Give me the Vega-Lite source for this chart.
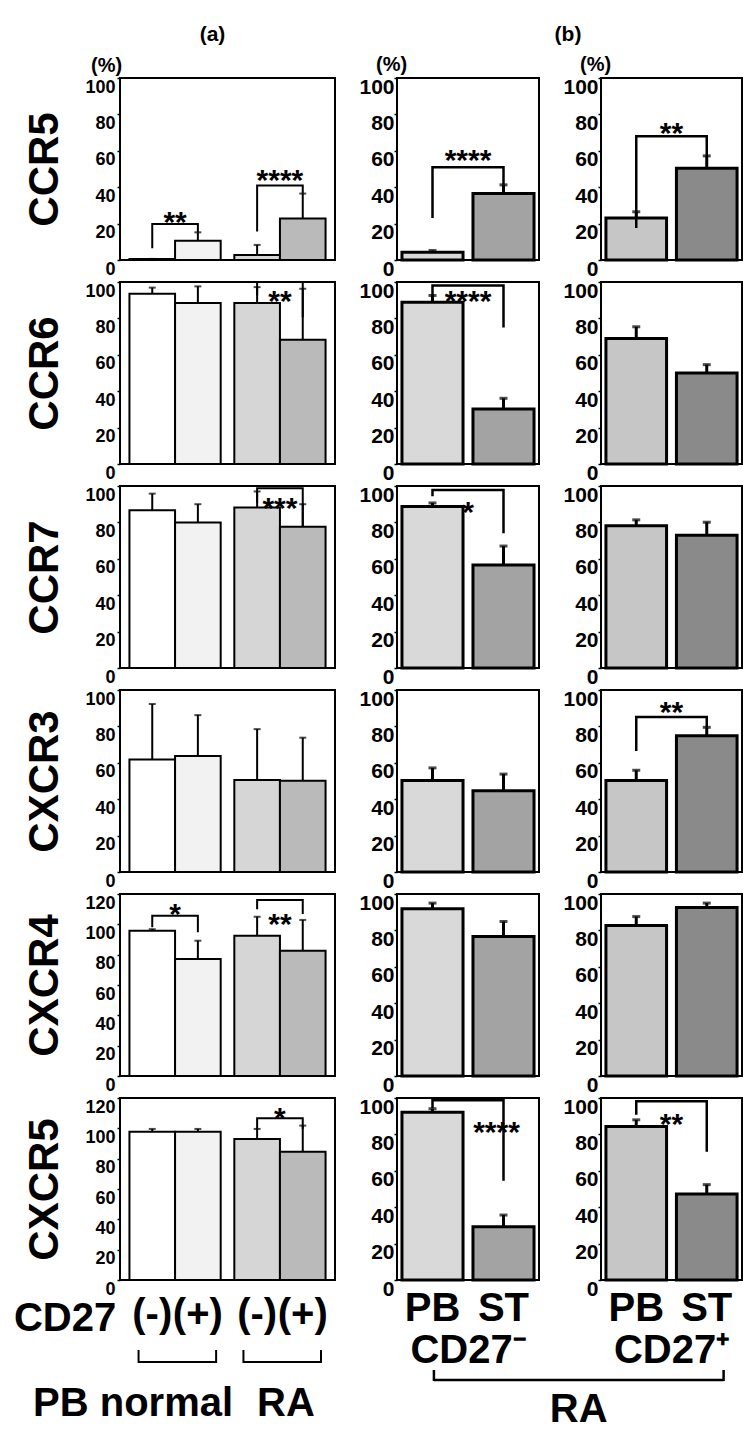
{
"$schema":"https://vega.github.io/schema/vega-lite/v6.json",
"background":"white",
"padding":{"left":13,"top":20,"right":0,"bottom":0},
"config":{
 "font":"Liberation Sans",
 "view":{"stroke":"black","strokeWidth":2},
 "axis":{"labelFont":"Liberation Sans","titleFont":"Liberation Sans","labelFontWeight":"bold","titleFontWeight":"bold","labelColor":"black","titleColor":"black","tickColor":"black","tickWidth":1.5,"grid":false,"domain":false,"labelOverlap":false},
 "title":{"font":"Liberation Sans","fontWeight":"bold","color":"black"},
 "text":{"font":"Liberation Sans","fontWeight":"bold","color":"black"}
},
"datasets":{
 "a_bars":[
  {"m":"CCR5","g":"normal","c":"-","v":0.6,"hi":0.6},
  {"m":"CCR5","g":"normal","c":"+","v":10.6,"hi":15.2},
  {"m":"CCR5","g":"RA","c":"-","v":2.8,"hi":8.3},
  {"m":"CCR5","g":"RA","c":"+","v":22.8,"hi":36.5},
  {"m":"CCR6","g":"normal","c":"-","v":93.6,"hi":96.9},
  {"m":"CCR6","g":"normal","c":"+","v":88.4,"hi":97.6},
  {"m":"CCR6","g":"RA","c":"-","v":88.4,"hi":97.2},
  {"m":"CCR6","g":"RA","c":"+","v":68.3,"hi":96.3},
  {"m":"CCR7","g":"normal","c":"-","v":86.7,"hi":95.8},
  {"m":"CCR7","g":"normal","c":"+","v":79.9,"hi":90},
  {"m":"CCR7","g":"RA","c":"-","v":88.2,"hi":97},
  {"m":"CCR7","g":"RA","c":"+","v":77.6,"hi":90},
  {"m":"CXCR3","g":"normal","c":"-","v":61.8,"hi":92.3},
  {"m":"CXCR3","g":"normal","c":"+","v":63.7,"hi":86.2},
  {"m":"CXCR3","g":"RA","c":"-","v":50.5,"hi":78.5},
  {"m":"CXCR3","g":"RA","c":"+","v":50.1,"hi":73.8},
  {"m":"CXCR4","g":"normal","c":"-","v":95.8,"hi":96.8},
  {"m":"CXCR4","g":"normal","c":"+","v":77.1,"hi":89.2},
  {"m":"CXCR4","g":"RA","c":"-","v":92.5,"hi":105},
  {"m":"CXCR4","g":"RA","c":"+","v":82.6,"hi":102.9},
  {"m":"CXCR5","g":"normal","c":"-","v":97.8,"hi":99.6},
  {"m":"CXCR5","g":"normal","c":"+","v":97.8,"hi":99.6},
  {"m":"CXCR5","g":"RA","c":"-","v":93,"hi":99.6},
  {"m":"CXCR5","g":"RA","c":"+","v":84.6,"hi":101.8}
 ],
 "a_brk":[
  {"m":"CCR5","id":"n","g":"normal","c":"-","y":6.5,"o":1},
  {"m":"CCR5","id":"n","g":"normal","c":"-","y":19.8,"o":2},
  {"m":"CCR5","id":"n","g":"normal","c":"+","y":19.8,"o":3},
  {"m":"CCR5","id":"n","g":"normal","c":"+","y":15.2,"o":4},
  {"m":"CCR5","id":"r","g":"RA","c":"-","y":15.7,"o":1},
  {"m":"CCR5","id":"r","g":"RA","c":"-","y":41,"o":2},
  {"m":"CCR5","id":"r","g":"RA","c":"+","y":41,"o":3},
  {"m":"CCR5","id":"r","g":"RA","c":"+","y":36.5,"o":4},
  {"m":"CCR6","id":"r","g":"RA","c":"-","y":92.7,"o":1},
  {"m":"CCR6","id":"r","g":"RA","c":"-","y":100,"o":2},
  {"m":"CCR6","id":"r","g":"RA","c":"+","y":100,"o":3},
  {"m":"CCR6","id":"r","g":"RA","c":"+","y":80.7,"o":4},
  {"m":"CCR7","id":"r","g":"RA","c":"-","y":90.9,"o":1},
  {"m":"CCR7","id":"r","g":"RA","c":"-","y":98.7,"o":2},
  {"m":"CCR7","id":"r","g":"RA","c":"+","y":98.7,"o":3},
  {"m":"CCR7","id":"r","g":"RA","c":"+","y":78,"o":4},
  {"m":"CXCR4","id":"n","g":"normal","c":"-","y":98,"o":1},
  {"m":"CXCR4","id":"n","g":"normal","c":"-","y":105.7,"o":2},
  {"m":"CXCR4","id":"n","g":"normal","c":"+","y":105.7,"o":3},
  {"m":"CXCR4","id":"n","g":"normal","c":"+","y":94.7,"o":4},
  {"m":"CXCR4","id":"r","g":"RA","c":"-","y":110,"o":1},
  {"m":"CXCR4","id":"r","g":"RA","c":"-","y":116,"o":2},
  {"m":"CXCR4","id":"r","g":"RA","c":"+","y":116,"o":3},
  {"m":"CXCR4","id":"r","g":"RA","c":"+","y":106.8,"o":4},
  {"m":"CXCR5","id":"r","g":"RA","c":"-","y":99.6,"o":1},
  {"m":"CXCR5","id":"r","g":"RA","c":"-","y":106.6,"o":2},
  {"m":"CXCR5","id":"r","g":"RA","c":"+","y":106.6,"o":3},
  {"m":"CXCR5","id":"r","g":"RA","c":"+","y":99.6,"o":4}
 ],
 "a_star":[
  {"m":"CCR5","g":"normal","t":"**","y":25},
  {"m":"CCR5","g":"RA","t":"****","y":47.6},
  {"m":"CCR6","g":"RA","t":"**","y":93.6},
  {"m":"CCR7","g":"RA","t":"***","y":91.8},
  {"m":"CXCR4","g":"normal","t":"*","y":111.2},
  {"m":"CXCR4","g":"RA","t":"**","y":104.6},
  {"m":"CXCR5","g":"RA","t":"*","y":111.7}
 ],
 "b_bars":[
  {"m":"CCR5","p":"neg","s":"PB","v":4.3,"hi":5.2},
  {"m":"CCR5","p":"neg","s":"ST","v":36.5,"hi":41.3},
  {"m":"CCR5","p":"pos","s":"PB","v":23.1,"hi":26.5},
  {"m":"CCR5","p":"pos","s":"ST","v":50.4,"hi":57.2},
  {"m":"CCR6","p":"neg","s":"PB","v":88.9,"hi":92.6},
  {"m":"CCR6","p":"neg","s":"ST","v":30.2,"hi":36.1},
  {"m":"CCR6","p":"pos","s":"PB","v":68.9,"hi":75.4},
  {"m":"CCR6","p":"pos","s":"ST","v":50,"hi":54.6},
  {"m":"CCR7","p":"neg","s":"PB","v":88.8,"hi":90.7},
  {"m":"CCR7","p":"neg","s":"ST","v":56.6,"hi":67},
  {"m":"CCR7","p":"pos","s":"PB","v":78.2,"hi":81.4},
  {"m":"CCR7","p":"pos","s":"ST","v":73,"hi":80.1},
  {"m":"CXCR3","p":"neg","s":"PB","v":50.3,"hi":57.2},
  {"m":"CXCR3","p":"neg","s":"ST","v":44.7,"hi":53.8},
  {"m":"CXCR3","p":"pos","s":"PB","v":50.3,"hi":55.9},
  {"m":"CXCR3","p":"pos","s":"ST","v":74.9,"hi":79.5},
  {"m":"CXCR4","p":"neg","s":"PB","v":91.9,"hi":95},
  {"m":"CXCR4","p":"neg","s":"ST","v":76.6,"hi":84.9},
  {"m":"CXCR4","p":"pos","s":"PB","v":82.7,"hi":87.6},
  {"m":"CXCR4","p":"pos","s":"ST","v":92.6,"hi":95},
  {"m":"CXCR5","p":"neg","s":"PB","v":92.2,"hi":94.1},
  {"m":"CXCR5","p":"neg","s":"ST","v":29.3,"hi":35.7},
  {"m":"CXCR5","p":"pos","s":"PB","v":84.3,"hi":88},
  {"m":"CXCR5","p":"pos","s":"ST","v":47.2,"hi":52.4}
 ],
 "b_brk":[
  {"m":"CCR5","p":"neg","s":"PB","y":23.1,"o":1},
  {"m":"CCR5","p":"neg","s":"PB","y":50.9,"o":2},
  {"m":"CCR5","p":"neg","s":"ST","y":50.9,"o":3},
  {"m":"CCR5","p":"neg","s":"ST","y":41.3,"o":4},
  {"m":"CCR5","p":"pos","s":"PB","y":17.6,"o":1},
  {"m":"CCR5","p":"pos","s":"PB","y":68,"o":2},
  {"m":"CCR5","p":"pos","s":"ST","y":68,"o":3},
  {"m":"CCR5","p":"pos","s":"ST","y":57.2,"o":4},
  {"m":"CCR6","p":"neg","s":"PB","y":90.7,"o":1},
  {"m":"CCR6","p":"neg","s":"PB","y":98.1,"o":2},
  {"m":"CCR6","p":"neg","s":"ST","y":98.1,"o":3},
  {"m":"CCR6","p":"neg","s":"ST","y":75,"o":4},
  {"m":"CCR7","p":"neg","s":"PB","y":94.4,"o":1},
  {"m":"CCR7","p":"neg","s":"PB","y":97.8,"o":2},
  {"m":"CCR7","p":"neg","s":"ST","y":97.8,"o":3},
  {"m":"CCR7","p":"neg","s":"ST","y":74,"o":4},
  {"m":"CXCR3","p":"pos","s":"PB","y":66.5,"o":1},
  {"m":"CXCR3","p":"pos","s":"PB","y":85.1,"o":2},
  {"m":"CXCR3","p":"pos","s":"ST","y":85.1,"o":3},
  {"m":"CXCR3","p":"pos","s":"ST","y":79.5,"o":4},
  {"m":"CXCR5","p":"neg","s":"PB","y":94.4,"o":1},
  {"m":"CXCR5","p":"neg","s":"PB","y":98.7,"o":2},
  {"m":"CXCR5","p":"neg","s":"ST","y":98.7,"o":3},
  {"m":"CXCR5","p":"neg","s":"ST","y":54.6,"o":4},
  {"m":"CXCR5","p":"pos","s":"PB","y":90.8,"o":1},
  {"m":"CXCR5","p":"pos","s":"PB","y":98.2,"o":2},
  {"m":"CXCR5","p":"pos","s":"ST","y":98.2,"o":3},
  {"m":"CXCR5","p":"pos","s":"ST","y":70.4,"o":4}
 ],
 "b_star":[
  {"m":"CCR5","p":"neg","t":"****","y":59},
  {"m":"CCR5","p":"pos","t":"**","y":73.5},
  {"m":"CCR6","p":"neg","t":"****","y":93.5},
  {"m":"CCR7","p":"neg","t":"*","y":89.8},
  {"m":"CXCR3","p":"pos","t":"**","y":91.6},
  {"m":"CXCR5","p":"neg","t":"****","y":85.2,"s":"ST"},
  {"m":"CXCR5","p":"pos","t":"**","y":89.8}
 ]
},
"columns":3,
"align":"each",
"bounds":"flush",
"spacing":{"row":22,"column":62},
"resolve":{"scale":{"xOffset":"independent"}},
"concat":[
 {"width":215,"height":36,"view":{"stroke":null},"data":{"values":[{"t":"(a)"}]},"mark":{"type":"text","fontSize":21,"fontWeight":"bold","baseline":"middle","dx":-15,"dy":-3},"encoding":{"text":{"field":"t","type":"nominal"}}},
 {"width":142,"height":36,"view":{"stroke":null},"data":{"values":[{"t":"(b)"}]},"mark":{"type":"text","fontSize":21,"fontWeight":"bold","baseline":"middle","dx":100,"dy":-3},"encoding":{"text":{"field":"t","type":"nominal"}}},
 {"width":141,"height":36,"view":{"stroke":null},"data":{"values":[]},"mark":{"type":"text"},"encoding":{}},

 {"width":215,"height":182,
  "title":{"text":"(%)","anchor":"start","frame":"group","dx":-29,"offset":1,"fontSize":20},
  "layer":[
   {"data":{"name":"a_bars"},"transform":[{"filter":"datum.m==='CCR5'"}],"mark":{"type":"bar","stroke":"black","strokeWidth":2},"encoding":{"x":{"field":"g","type":"nominal","scale":{"domain":["normal","RA"],"paddingInner":0.13,"paddingOuter":0.09},"axis":null},"xOffset":{"field":"c","type":"nominal","scale":{"domain":["-","+"],"paddingInner":0,"paddingOuter":0}},"y":{"field":"v","type":"quantitative","scale":{"domain":[0,100],"nice":false},"axis":{"title":"CCR5","values":[0,20,40,60,80,100],"tickCount":12,"labelOverlap":false,"titleFontSize":42,"titlePadding":18,"labelFontSize":18,"tickSize":3,"labelPadding":2,"labelBaseline":"middle","labelOffset":9}},"fill":{"condition":[{"test":"datum.g==='normal' && datum.c==='-'","value":"#ffffff"},{"test":"datum.g==='normal'","value":"#f2f2f2"},{"test":"datum.c==='-'","value":"#d6d6d6"}],"value":"#bababa"}}},
   {"data":{"name":"a_bars"},"transform":[{"filter":"datum.m==='CCR5'"}],"mark":{"type":"rule","color":"black","strokeWidth":2},"encoding":{"x":{"field":"g","type":"nominal","axis":null},"xOffset":{"field":"c","type":"nominal"},"y":{"field":"v","type":"quantitative"},"y2":{"field":"hi"}}},
   {"data":{"name":"a_bars"},"transform":[{"filter":"datum.m==='CCR5'"}],"mark":{"type":"tick","color":"black","thickness":2,"size":7},"encoding":{"x":{"field":"g","type":"nominal","axis":null},"xOffset":{"field":"c","type":"nominal"},"y":{"field":"hi","type":"quantitative"}}},
   {"data":{"name":"a_brk"},"transform":[{"filter":"datum.m==='CCR5'"}],"mark":{"type":"line","color":"black","strokeWidth":2},"encoding":{"x":{"field":"g","type":"nominal","axis":null},"xOffset":{"field":"c","type":"nominal"},"y":{"field":"y","type":"quantitative"},"order":{"field":"o","type":"quantitative"},"detail":{"field":"id","type":"nominal"}}},
   {"data":{"name":"a_star"},"transform":[{"filter":"datum.m==='CCR5'"}],"mark":{"type":"text","fontSize":30,"fontWeight":"bold","baseline":"middle","dy":8},"encoding":{"x":{"field":"g","type":"nominal","axis":null},"y":{"field":"y","type":"quantitative"},"text":{"field":"t","type":"nominal"}}}
  ]},
 {"width":142,"height":182,
  "title":{"text":"(%)","anchor":"start","frame":"group","dx":-21,"offset":1,"fontSize":20},
  "layer":[
   {"data":{"name":"b_bars"},"transform":[{"filter":"datum.m==='CCR5' && datum.p==='neg'"}],"mark":{"type":"bar","stroke":"black","strokeWidth":3},"encoding":{"x":{"field":"s","type":"nominal","scale":{"domain":["PB","ST"],"paddingInner":0.14,"paddingOuter":0.07},"axis":null},"y":{"field":"v","type":"quantitative","scale":{"domain":[0,100],"nice":false},"axis":{"title":null,"values":[0,20,40,60,80,100],"tickCount":12,"labelOverlap":false,"labelFontSize":21,"tickSize":3,"labelPadding":0,"labelBaseline":"middle","labelOffset":9}},"fill":{"condition":{"test":"datum.s==='PB'","value":"#d9d9d9"},"value":"#a3a3a3"}}},
   {"data":{"name":"b_bars"},"transform":[{"filter":"datum.m==='CCR5' && datum.p==='neg'"}],"mark":{"type":"rule","color":"black","strokeWidth":3},"encoding":{"x":{"field":"s","type":"nominal","axis":null},"y":{"field":"v","type":"quantitative"},"y2":{"field":"hi"}}},
   {"data":{"name":"b_bars"},"transform":[{"filter":"datum.m==='CCR5' && datum.p==='neg'"}],"mark":{"type":"tick","color":"black","thickness":3,"size":8},"encoding":{"x":{"field":"s","type":"nominal","axis":null},"y":{"field":"hi","type":"quantitative"}}},
   {"data":{"name":"b_brk"},"transform":[{"filter":"datum.m==='CCR5' && datum.p==='neg'"}],"mark":{"type":"line","color":"black","strokeWidth":2.5},"encoding":{"x":{"field":"s","type":"nominal","axis":null},"y":{"field":"y","type":"quantitative"},"order":{"field":"o","type":"quantitative"}}},
   {"data":{"name":"b_star"},"transform":[{"filter":"datum.m==='CCR5' && datum.p==='neg' && !datum.s"}],"mark":{"type":"text","fontSize":30,"fontWeight":"bold","baseline":"middle","dy":8},"encoding":{"y":{"field":"y","type":"quantitative"},"text":{"field":"t","type":"nominal"}}}
  ]},
 {"width":141,"height":182,
  "title":{"text":"(%)","anchor":"start","frame":"group","dx":-21,"offset":1,"fontSize":20},
  "layer":[
   {"data":{"name":"b_bars"},"transform":[{"filter":"datum.m==='CCR5' && datum.p==='pos'"}],"mark":{"type":"bar","stroke":"black","strokeWidth":3},"encoding":{"x":{"field":"s","type":"nominal","scale":{"domain":["PB","ST"],"paddingInner":0.14,"paddingOuter":0.07},"axis":null},"y":{"field":"v","type":"quantitative","scale":{"domain":[0,100],"nice":false},"axis":{"title":null,"values":[0,20,40,60,80,100],"tickCount":12,"labelOverlap":false,"labelFontSize":21,"tickSize":3,"labelPadding":0,"labelBaseline":"middle","labelOffset":9}},"fill":{"condition":{"test":"datum.s==='PB'","value":"#c6c6c6"},"value":"#8a8a8a"}}},
   {"data":{"name":"b_bars"},"transform":[{"filter":"datum.m==='CCR5' && datum.p==='pos'"}],"mark":{"type":"rule","color":"black","strokeWidth":3},"encoding":{"x":{"field":"s","type":"nominal","axis":null},"y":{"field":"v","type":"quantitative"},"y2":{"field":"hi"}}},
   {"data":{"name":"b_bars"},"transform":[{"filter":"datum.m==='CCR5' && datum.p==='pos'"}],"mark":{"type":"tick","color":"black","thickness":3,"size":8},"encoding":{"x":{"field":"s","type":"nominal","axis":null},"y":{"field":"hi","type":"quantitative"}}},
   {"data":{"name":"b_brk"},"transform":[{"filter":"datum.m==='CCR5' && datum.p==='pos'"}],"mark":{"type":"line","color":"black","strokeWidth":2.5},"encoding":{"x":{"field":"s","type":"nominal","axis":null},"y":{"field":"y","type":"quantitative"},"order":{"field":"o","type":"quantitative"}}},
   {"data":{"name":"b_star"},"transform":[{"filter":"datum.m==='CCR5' && datum.p==='pos' && !datum.s"}],"mark":{"type":"text","fontSize":30,"fontWeight":"bold","baseline":"middle","dy":8},"encoding":{"y":{"field":"y","type":"quantitative"},"text":{"field":"t","type":"nominal"}}}
  ]},

 {"width":215,"height":182,
  "layer":[
   {"data":{"name":"a_bars"},"transform":[{"filter":"datum.m==='CCR6'"}],"mark":{"type":"bar","stroke":"black","strokeWidth":2},"encoding":{"x":{"field":"g","type":"nominal","scale":{"domain":["normal","RA"],"paddingInner":0.13,"paddingOuter":0.09},"axis":null},"xOffset":{"field":"c","type":"nominal","scale":{"domain":["-","+"],"paddingInner":0,"paddingOuter":0}},"y":{"field":"v","type":"quantitative","scale":{"domain":[0,100],"nice":false},"axis":{"title":"CCR6","values":[0,20,40,60,80,100],"tickCount":12,"labelOverlap":false,"titleFontSize":42,"titlePadding":18,"labelFontSize":18,"tickSize":3,"labelPadding":2,"labelBaseline":"middle","labelOffset":9}},"fill":{"condition":[{"test":"datum.g==='normal' && datum.c==='-'","value":"#ffffff"},{"test":"datum.g==='normal'","value":"#f2f2f2"},{"test":"datum.c==='-'","value":"#d6d6d6"}],"value":"#bababa"}}},
   {"data":{"name":"a_bars"},"transform":[{"filter":"datum.m==='CCR6'"}],"mark":{"type":"rule","color":"black","strokeWidth":2},"encoding":{"x":{"field":"g","type":"nominal","axis":null},"xOffset":{"field":"c","type":"nominal"},"y":{"field":"v","type":"quantitative"},"y2":{"field":"hi"}}},
   {"data":{"name":"a_bars"},"transform":[{"filter":"datum.m==='CCR6'"}],"mark":{"type":"tick","color":"black","thickness":2,"size":7},"encoding":{"x":{"field":"g","type":"nominal","axis":null},"xOffset":{"field":"c","type":"nominal"},"y":{"field":"hi","type":"quantitative"}}},
   {"data":{"name":"a_brk"},"transform":[{"filter":"datum.m==='CCR6'"}],"mark":{"type":"line","color":"black","strokeWidth":2},"encoding":{"x":{"field":"g","type":"nominal","axis":null},"xOffset":{"field":"c","type":"nominal"},"y":{"field":"y","type":"quantitative"},"order":{"field":"o","type":"quantitative"},"detail":{"field":"id","type":"nominal"}}},
   {"data":{"name":"a_star"},"transform":[{"filter":"datum.m==='CCR6'"}],"mark":{"type":"text","fontSize":30,"fontWeight":"bold","baseline":"middle","dy":8},"encoding":{"x":{"field":"g","type":"nominal","axis":null},"y":{"field":"y","type":"quantitative"},"text":{"field":"t","type":"nominal"}}}
  ]},
 {"width":142,"height":182,
  "layer":[
   {"data":{"name":"b_bars"},"transform":[{"filter":"datum.m==='CCR6' && datum.p==='neg'"}],"mark":{"type":"bar","stroke":"black","strokeWidth":3},"encoding":{"x":{"field":"s","type":"nominal","scale":{"domain":["PB","ST"],"paddingInner":0.14,"paddingOuter":0.07},"axis":null},"y":{"field":"v","type":"quantitative","scale":{"domain":[0,100],"nice":false},"axis":{"title":null,"values":[0,20,40,60,80,100],"tickCount":12,"labelOverlap":false,"labelFontSize":21,"tickSize":3,"labelPadding":0,"labelBaseline":"middle","labelOffset":9}},"fill":{"condition":{"test":"datum.s==='PB'","value":"#d9d9d9"},"value":"#a3a3a3"}}},
   {"data":{"name":"b_bars"},"transform":[{"filter":"datum.m==='CCR6' && datum.p==='neg'"}],"mark":{"type":"rule","color":"black","strokeWidth":3},"encoding":{"x":{"field":"s","type":"nominal","axis":null},"y":{"field":"v","type":"quantitative"},"y2":{"field":"hi"}}},
   {"data":{"name":"b_bars"},"transform":[{"filter":"datum.m==='CCR6' && datum.p==='neg'"}],"mark":{"type":"tick","color":"black","thickness":3,"size":8},"encoding":{"x":{"field":"s","type":"nominal","axis":null},"y":{"field":"hi","type":"quantitative"}}},
   {"data":{"name":"b_brk"},"transform":[{"filter":"datum.m==='CCR6' && datum.p==='neg'"}],"mark":{"type":"line","color":"black","strokeWidth":2.5},"encoding":{"x":{"field":"s","type":"nominal","axis":null},"y":{"field":"y","type":"quantitative"},"order":{"field":"o","type":"quantitative"}}},
   {"data":{"name":"b_star"},"transform":[{"filter":"datum.m==='CCR6' && datum.p==='neg' && !datum.s"}],"mark":{"type":"text","fontSize":30,"fontWeight":"bold","baseline":"middle","dy":8},"encoding":{"y":{"field":"y","type":"quantitative"},"text":{"field":"t","type":"nominal"}}}
  ]},
 {"width":141,"height":182,
  "layer":[
   {"data":{"name":"b_bars"},"transform":[{"filter":"datum.m==='CCR6' && datum.p==='pos'"}],"mark":{"type":"bar","stroke":"black","strokeWidth":3},"encoding":{"x":{"field":"s","type":"nominal","scale":{"domain":["PB","ST"],"paddingInner":0.14,"paddingOuter":0.07},"axis":null},"y":{"field":"v","type":"quantitative","scale":{"domain":[0,100],"nice":false},"axis":{"title":null,"values":[0,20,40,60,80,100],"tickCount":12,"labelOverlap":false,"labelFontSize":21,"tickSize":3,"labelPadding":0,"labelBaseline":"middle","labelOffset":9}},"fill":{"condition":{"test":"datum.s==='PB'","value":"#c6c6c6"},"value":"#8a8a8a"}}},
   {"data":{"name":"b_bars"},"transform":[{"filter":"datum.m==='CCR6' && datum.p==='pos'"}],"mark":{"type":"rule","color":"black","strokeWidth":3},"encoding":{"x":{"field":"s","type":"nominal","axis":null},"y":{"field":"v","type":"quantitative"},"y2":{"field":"hi"}}},
   {"data":{"name":"b_bars"},"transform":[{"filter":"datum.m==='CCR6' && datum.p==='pos'"}],"mark":{"type":"tick","color":"black","thickness":3,"size":8},"encoding":{"x":{"field":"s","type":"nominal","axis":null},"y":{"field":"hi","type":"quantitative"}}}
  ]},

 {"width":215,"height":182,
  "layer":[
   {"data":{"name":"a_bars"},"transform":[{"filter":"datum.m==='CCR7'"}],"mark":{"type":"bar","stroke":"black","strokeWidth":2},"encoding":{"x":{"field":"g","type":"nominal","scale":{"domain":["normal","RA"],"paddingInner":0.13,"paddingOuter":0.09},"axis":null},"xOffset":{"field":"c","type":"nominal","scale":{"domain":["-","+"],"paddingInner":0,"paddingOuter":0}},"y":{"field":"v","type":"quantitative","scale":{"domain":[0,100],"nice":false},"axis":{"title":"CCR7","values":[0,20,40,60,80,100],"tickCount":12,"labelOverlap":false,"titleFontSize":42,"titlePadding":18,"labelFontSize":18,"tickSize":3,"labelPadding":2,"labelBaseline":"middle","labelOffset":9}},"fill":{"condition":[{"test":"datum.g==='normal' && datum.c==='-'","value":"#ffffff"},{"test":"datum.g==='normal'","value":"#f2f2f2"},{"test":"datum.c==='-'","value":"#d6d6d6"}],"value":"#bababa"}}},
   {"data":{"name":"a_bars"},"transform":[{"filter":"datum.m==='CCR7'"}],"mark":{"type":"rule","color":"black","strokeWidth":2},"encoding":{"x":{"field":"g","type":"nominal","axis":null},"xOffset":{"field":"c","type":"nominal"},"y":{"field":"v","type":"quantitative"},"y2":{"field":"hi"}}},
   {"data":{"name":"a_bars"},"transform":[{"filter":"datum.m==='CCR7'"}],"mark":{"type":"tick","color":"black","thickness":2,"size":7},"encoding":{"x":{"field":"g","type":"nominal","axis":null},"xOffset":{"field":"c","type":"nominal"},"y":{"field":"hi","type":"quantitative"}}},
   {"data":{"name":"a_brk"},"transform":[{"filter":"datum.m==='CCR7'"}],"mark":{"type":"line","color":"black","strokeWidth":2},"encoding":{"x":{"field":"g","type":"nominal","axis":null},"xOffset":{"field":"c","type":"nominal"},"y":{"field":"y","type":"quantitative"},"order":{"field":"o","type":"quantitative"},"detail":{"field":"id","type":"nominal"}}},
   {"data":{"name":"a_star"},"transform":[{"filter":"datum.m==='CCR7'"}],"mark":{"type":"text","fontSize":30,"fontWeight":"bold","baseline":"middle","dy":8},"encoding":{"x":{"field":"g","type":"nominal","axis":null},"y":{"field":"y","type":"quantitative"},"text":{"field":"t","type":"nominal"}}}
  ]},
 {"width":142,"height":182,
  "layer":[
   {"data":{"name":"b_bars"},"transform":[{"filter":"datum.m==='CCR7' && datum.p==='neg'"}],"mark":{"type":"bar","stroke":"black","strokeWidth":3},"encoding":{"x":{"field":"s","type":"nominal","scale":{"domain":["PB","ST"],"paddingInner":0.14,"paddingOuter":0.07},"axis":null},"y":{"field":"v","type":"quantitative","scale":{"domain":[0,100],"nice":false},"axis":{"title":null,"values":[0,20,40,60,80,100],"tickCount":12,"labelOverlap":false,"labelFontSize":21,"tickSize":3,"labelPadding":0,"labelBaseline":"middle","labelOffset":9}},"fill":{"condition":{"test":"datum.s==='PB'","value":"#d9d9d9"},"value":"#a3a3a3"}}},
   {"data":{"name":"b_bars"},"transform":[{"filter":"datum.m==='CCR7' && datum.p==='neg'"}],"mark":{"type":"rule","color":"black","strokeWidth":3},"encoding":{"x":{"field":"s","type":"nominal","axis":null},"y":{"field":"v","type":"quantitative"},"y2":{"field":"hi"}}},
   {"data":{"name":"b_bars"},"transform":[{"filter":"datum.m==='CCR7' && datum.p==='neg'"}],"mark":{"type":"tick","color":"black","thickness":3,"size":8},"encoding":{"x":{"field":"s","type":"nominal","axis":null},"y":{"field":"hi","type":"quantitative"}}},
   {"data":{"name":"b_brk"},"transform":[{"filter":"datum.m==='CCR7' && datum.p==='neg'"}],"mark":{"type":"line","color":"black","strokeWidth":2.5},"encoding":{"x":{"field":"s","type":"nominal","axis":null},"y":{"field":"y","type":"quantitative"},"order":{"field":"o","type":"quantitative"}}},
   {"data":{"name":"b_star"},"transform":[{"filter":"datum.m==='CCR7' && datum.p==='neg' && !datum.s"}],"mark":{"type":"text","fontSize":30,"fontWeight":"bold","baseline":"middle","dy":8},"encoding":{"y":{"field":"y","type":"quantitative"},"text":{"field":"t","type":"nominal"}}}
  ]},
 {"width":141,"height":182,
  "layer":[
   {"data":{"name":"b_bars"},"transform":[{"filter":"datum.m==='CCR7' && datum.p==='pos'"}],"mark":{"type":"bar","stroke":"black","strokeWidth":3},"encoding":{"x":{"field":"s","type":"nominal","scale":{"domain":["PB","ST"],"paddingInner":0.14,"paddingOuter":0.07},"axis":null},"y":{"field":"v","type":"quantitative","scale":{"domain":[0,100],"nice":false},"axis":{"title":null,"values":[0,20,40,60,80,100],"tickCount":12,"labelOverlap":false,"labelFontSize":21,"tickSize":3,"labelPadding":0,"labelBaseline":"middle","labelOffset":9}},"fill":{"condition":{"test":"datum.s==='PB'","value":"#c6c6c6"},"value":"#8a8a8a"}}},
   {"data":{"name":"b_bars"},"transform":[{"filter":"datum.m==='CCR7' && datum.p==='pos'"}],"mark":{"type":"rule","color":"black","strokeWidth":3},"encoding":{"x":{"field":"s","type":"nominal","axis":null},"y":{"field":"v","type":"quantitative"},"y2":{"field":"hi"}}},
   {"data":{"name":"b_bars"},"transform":[{"filter":"datum.m==='CCR7' && datum.p==='pos'"}],"mark":{"type":"tick","color":"black","thickness":3,"size":8},"encoding":{"x":{"field":"s","type":"nominal","axis":null},"y":{"field":"hi","type":"quantitative"}}}
  ]},

 {"width":215,"height":182,
  "layer":[
   {"data":{"name":"a_bars"},"transform":[{"filter":"datum.m==='CXCR3'"}],"mark":{"type":"bar","stroke":"black","strokeWidth":2},"encoding":{"x":{"field":"g","type":"nominal","scale":{"domain":["normal","RA"],"paddingInner":0.13,"paddingOuter":0.09},"axis":null},"xOffset":{"field":"c","type":"nominal","scale":{"domain":["-","+"],"paddingInner":0,"paddingOuter":0}},"y":{"field":"v","type":"quantitative","scale":{"domain":[0,100],"nice":false},"axis":{"title":"CXCR3","values":[0,20,40,60,80,100],"tickCount":12,"labelOverlap":false,"titleFontSize":42,"titlePadding":18,"labelFontSize":18,"tickSize":3,"labelPadding":2,"labelBaseline":"middle","labelOffset":9}},"fill":{"condition":[{"test":"datum.g==='normal' && datum.c==='-'","value":"#ffffff"},{"test":"datum.g==='normal'","value":"#f2f2f2"},{"test":"datum.c==='-'","value":"#d6d6d6"}],"value":"#bababa"}}},
   {"data":{"name":"a_bars"},"transform":[{"filter":"datum.m==='CXCR3'"}],"mark":{"type":"rule","color":"black","strokeWidth":2},"encoding":{"x":{"field":"g","type":"nominal","axis":null},"xOffset":{"field":"c","type":"nominal"},"y":{"field":"v","type":"quantitative"},"y2":{"field":"hi"}}},
   {"data":{"name":"a_bars"},"transform":[{"filter":"datum.m==='CXCR3'"}],"mark":{"type":"tick","color":"black","thickness":2,"size":7},"encoding":{"x":{"field":"g","type":"nominal","axis":null},"xOffset":{"field":"c","type":"nominal"},"y":{"field":"hi","type":"quantitative"}}}
  ]},
 {"width":142,"height":182,
  "layer":[
   {"data":{"name":"b_bars"},"transform":[{"filter":"datum.m==='CXCR3' && datum.p==='neg'"}],"mark":{"type":"bar","stroke":"black","strokeWidth":3},"encoding":{"x":{"field":"s","type":"nominal","scale":{"domain":["PB","ST"],"paddingInner":0.14,"paddingOuter":0.07},"axis":null},"y":{"field":"v","type":"quantitative","scale":{"domain":[0,100],"nice":false},"axis":{"title":null,"values":[0,20,40,60,80,100],"tickCount":12,"labelOverlap":false,"labelFontSize":21,"tickSize":3,"labelPadding":0,"labelBaseline":"middle","labelOffset":9}},"fill":{"condition":{"test":"datum.s==='PB'","value":"#d9d9d9"},"value":"#a3a3a3"}}},
   {"data":{"name":"b_bars"},"transform":[{"filter":"datum.m==='CXCR3' && datum.p==='neg'"}],"mark":{"type":"rule","color":"black","strokeWidth":3},"encoding":{"x":{"field":"s","type":"nominal","axis":null},"y":{"field":"v","type":"quantitative"},"y2":{"field":"hi"}}},
   {"data":{"name":"b_bars"},"transform":[{"filter":"datum.m==='CXCR3' && datum.p==='neg'"}],"mark":{"type":"tick","color":"black","thickness":3,"size":8},"encoding":{"x":{"field":"s","type":"nominal","axis":null},"y":{"field":"hi","type":"quantitative"}}}
  ]},
 {"width":141,"height":182,
  "layer":[
   {"data":{"name":"b_bars"},"transform":[{"filter":"datum.m==='CXCR3' && datum.p==='pos'"}],"mark":{"type":"bar","stroke":"black","strokeWidth":3},"encoding":{"x":{"field":"s","type":"nominal","scale":{"domain":["PB","ST"],"paddingInner":0.14,"paddingOuter":0.07},"axis":null},"y":{"field":"v","type":"quantitative","scale":{"domain":[0,100],"nice":false},"axis":{"title":null,"values":[0,20,40,60,80,100],"tickCount":12,"labelOverlap":false,"labelFontSize":21,"tickSize":3,"labelPadding":0,"labelBaseline":"middle","labelOffset":9}},"fill":{"condition":{"test":"datum.s==='PB'","value":"#c6c6c6"},"value":"#8a8a8a"}}},
   {"data":{"name":"b_bars"},"transform":[{"filter":"datum.m==='CXCR3' && datum.p==='pos'"}],"mark":{"type":"rule","color":"black","strokeWidth":3},"encoding":{"x":{"field":"s","type":"nominal","axis":null},"y":{"field":"v","type":"quantitative"},"y2":{"field":"hi"}}},
   {"data":{"name":"b_bars"},"transform":[{"filter":"datum.m==='CXCR3' && datum.p==='pos'"}],"mark":{"type":"tick","color":"black","thickness":3,"size":8},"encoding":{"x":{"field":"s","type":"nominal","axis":null},"y":{"field":"hi","type":"quantitative"}}},
   {"data":{"name":"b_brk"},"transform":[{"filter":"datum.m==='CXCR3' && datum.p==='pos'"}],"mark":{"type":"line","color":"black","strokeWidth":2.5},"encoding":{"x":{"field":"s","type":"nominal","axis":null},"y":{"field":"y","type":"quantitative"},"order":{"field":"o","type":"quantitative"}}},
   {"data":{"name":"b_star"},"transform":[{"filter":"datum.m==='CXCR3' && datum.p==='pos' && !datum.s"}],"mark":{"type":"text","fontSize":30,"fontWeight":"bold","baseline":"middle","dy":8},"encoding":{"y":{"field":"y","type":"quantitative"},"text":{"field":"t","type":"nominal"}}}
  ]},

 {"width":215,"height":182,
  "layer":[
   {"data":{"name":"a_bars"},"transform":[{"filter":"datum.m==='CXCR4'"}],"mark":{"type":"bar","stroke":"black","strokeWidth":2},"encoding":{"x":{"field":"g","type":"nominal","scale":{"domain":["normal","RA"],"paddingInner":0.13,"paddingOuter":0.09},"axis":null},"xOffset":{"field":"c","type":"nominal","scale":{"domain":["-","+"],"paddingInner":0,"paddingOuter":0}},"y":{"field":"v","type":"quantitative","scale":{"domain":[0,120],"nice":false},"axis":{"title":"CXCR4","values":[0,20,40,60,80,100,120],"tickCount":12,"labelOverlap":false,"titleFontSize":42,"titlePadding":18,"labelFontSize":18,"tickSize":3,"labelPadding":2,"labelBaseline":"middle","labelOffset":9}},"fill":{"condition":[{"test":"datum.g==='normal' && datum.c==='-'","value":"#ffffff"},{"test":"datum.g==='normal'","value":"#f2f2f2"},{"test":"datum.c==='-'","value":"#d6d6d6"}],"value":"#bababa"}}},
   {"data":{"name":"a_bars"},"transform":[{"filter":"datum.m==='CXCR4'"}],"mark":{"type":"rule","color":"black","strokeWidth":2},"encoding":{"x":{"field":"g","type":"nominal","axis":null},"xOffset":{"field":"c","type":"nominal"},"y":{"field":"v","type":"quantitative"},"y2":{"field":"hi"}}},
   {"data":{"name":"a_bars"},"transform":[{"filter":"datum.m==='CXCR4'"}],"mark":{"type":"tick","color":"black","thickness":2,"size":7},"encoding":{"x":{"field":"g","type":"nominal","axis":null},"xOffset":{"field":"c","type":"nominal"},"y":{"field":"hi","type":"quantitative"}}},
   {"data":{"name":"a_brk"},"transform":[{"filter":"datum.m==='CXCR4'"}],"mark":{"type":"line","color":"black","strokeWidth":2},"encoding":{"x":{"field":"g","type":"nominal","axis":null},"xOffset":{"field":"c","type":"nominal"},"y":{"field":"y","type":"quantitative"},"order":{"field":"o","type":"quantitative"},"detail":{"field":"id","type":"nominal"}}},
   {"data":{"name":"a_star"},"transform":[{"filter":"datum.m==='CXCR4'"}],"mark":{"type":"text","fontSize":30,"fontWeight":"bold","baseline":"middle","dy":8},"encoding":{"x":{"field":"g","type":"nominal","axis":null},"y":{"field":"y","type":"quantitative"},"text":{"field":"t","type":"nominal"}}}
  ]},
 {"width":142,"height":182,
  "layer":[
   {"data":{"name":"b_bars"},"transform":[{"filter":"datum.m==='CXCR4' && datum.p==='neg'"}],"mark":{"type":"bar","stroke":"black","strokeWidth":3},"encoding":{"x":{"field":"s","type":"nominal","scale":{"domain":["PB","ST"],"paddingInner":0.14,"paddingOuter":0.07},"axis":null},"y":{"field":"v","type":"quantitative","scale":{"domain":[0,100],"nice":false},"axis":{"title":null,"values":[0,20,40,60,80,100],"tickCount":12,"labelOverlap":false,"labelFontSize":21,"tickSize":3,"labelPadding":0,"labelBaseline":"middle","labelOffset":9}},"fill":{"condition":{"test":"datum.s==='PB'","value":"#d9d9d9"},"value":"#a3a3a3"}}},
   {"data":{"name":"b_bars"},"transform":[{"filter":"datum.m==='CXCR4' && datum.p==='neg'"}],"mark":{"type":"rule","color":"black","strokeWidth":3},"encoding":{"x":{"field":"s","type":"nominal","axis":null},"y":{"field":"v","type":"quantitative"},"y2":{"field":"hi"}}},
   {"data":{"name":"b_bars"},"transform":[{"filter":"datum.m==='CXCR4' && datum.p==='neg'"}],"mark":{"type":"tick","color":"black","thickness":3,"size":8},"encoding":{"x":{"field":"s","type":"nominal","axis":null},"y":{"field":"hi","type":"quantitative"}}}
  ]},
 {"width":141,"height":182,
  "layer":[
   {"data":{"name":"b_bars"},"transform":[{"filter":"datum.m==='CXCR4' && datum.p==='pos'"}],"mark":{"type":"bar","stroke":"black","strokeWidth":3},"encoding":{"x":{"field":"s","type":"nominal","scale":{"domain":["PB","ST"],"paddingInner":0.14,"paddingOuter":0.07},"axis":null},"y":{"field":"v","type":"quantitative","scale":{"domain":[0,100],"nice":false},"axis":{"title":null,"values":[0,20,40,60,80,100],"tickCount":12,"labelOverlap":false,"labelFontSize":21,"tickSize":3,"labelPadding":0,"labelBaseline":"middle","labelOffset":9}},"fill":{"condition":{"test":"datum.s==='PB'","value":"#c6c6c6"},"value":"#8a8a8a"}}},
   {"data":{"name":"b_bars"},"transform":[{"filter":"datum.m==='CXCR4' && datum.p==='pos'"}],"mark":{"type":"rule","color":"black","strokeWidth":3},"encoding":{"x":{"field":"s","type":"nominal","axis":null},"y":{"field":"v","type":"quantitative"},"y2":{"field":"hi"}}},
   {"data":{"name":"b_bars"},"transform":[{"filter":"datum.m==='CXCR4' && datum.p==='pos'"}],"mark":{"type":"tick","color":"black","thickness":3,"size":8},"encoding":{"x":{"field":"s","type":"nominal","axis":null},"y":{"field":"hi","type":"quantitative"}}}
  ]},

 {"width":215,"height":182,
  "layer":[
   {"data":{"name":"a_bars"},"transform":[{"filter":"datum.m==='CXCR5'"}],"mark":{"type":"bar","stroke":"black","strokeWidth":2},"encoding":{"x":{"field":"g","type":"nominal","scale":{"domain":["normal","RA"],"paddingInner":0.13,"paddingOuter":0.09},"axis":null},"xOffset":{"field":"c","type":"nominal","scale":{"domain":["-","+"],"paddingInner":0,"paddingOuter":0}},"y":{"field":"v","type":"quantitative","scale":{"domain":[0,120],"nice":false},"axis":{"title":"CXCR5","values":[0,20,40,60,80,100,120],"tickCount":12,"labelOverlap":false,"titleFontSize":42,"titlePadding":18,"labelFontSize":18,"tickSize":3,"labelPadding":2,"labelBaseline":"middle","labelOffset":9}},"fill":{"condition":[{"test":"datum.g==='normal' && datum.c==='-'","value":"#ffffff"},{"test":"datum.g==='normal'","value":"#f2f2f2"},{"test":"datum.c==='-'","value":"#d6d6d6"}],"value":"#bababa"}}},
   {"data":{"name":"a_bars"},"transform":[{"filter":"datum.m==='CXCR5'"}],"mark":{"type":"rule","color":"black","strokeWidth":2},"encoding":{"x":{"field":"g","type":"nominal","axis":null},"xOffset":{"field":"c","type":"nominal"},"y":{"field":"v","type":"quantitative"},"y2":{"field":"hi"}}},
   {"data":{"name":"a_bars"},"transform":[{"filter":"datum.m==='CXCR5'"}],"mark":{"type":"tick","color":"black","thickness":2,"size":7},"encoding":{"x":{"field":"g","type":"nominal","axis":null},"xOffset":{"field":"c","type":"nominal"},"y":{"field":"hi","type":"quantitative"}}},
   {"data":{"name":"a_brk"},"transform":[{"filter":"datum.m==='CXCR5'"}],"mark":{"type":"line","color":"black","strokeWidth":2},"encoding":{"x":{"field":"g","type":"nominal","axis":null},"xOffset":{"field":"c","type":"nominal"},"y":{"field":"y","type":"quantitative"},"order":{"field":"o","type":"quantitative"},"detail":{"field":"id","type":"nominal"}}},
   {"data":{"name":"a_star"},"transform":[{"filter":"datum.m==='CXCR5'"}],"mark":{"type":"text","fontSize":30,"fontWeight":"bold","baseline":"middle","dy":8},"encoding":{"x":{"field":"g","type":"nominal","axis":null},"y":{"field":"y","type":"quantitative"},"text":{"field":"t","type":"nominal"}}}
  ]},
 {"width":142,"height":182,
  "layer":[
   {"data":{"name":"b_bars"},"transform":[{"filter":"datum.m==='CXCR5' && datum.p==='neg'"}],"mark":{"type":"bar","stroke":"black","strokeWidth":3},"encoding":{"x":{"field":"s","type":"nominal","scale":{"domain":["PB","ST"],"paddingInner":0.14,"paddingOuter":0.07},"axis":{"title":"CD27⁻","labelFontSize":40,"labelAngle":0,"labelPadding":8,"ticks":false,"domain":false,"titleFontSize":40,"titlePadding":2}},"y":{"field":"v","type":"quantitative","scale":{"domain":[0,100],"nice":false},"axis":{"title":null,"values":[0,20,40,60,80,100],"tickCount":12,"labelOverlap":false,"labelFontSize":21,"tickSize":3,"labelPadding":0,"labelBaseline":"middle","labelOffset":9}},"fill":{"condition":{"test":"datum.s==='PB'","value":"#d9d9d9"},"value":"#a3a3a3"}}},
   {"data":{"name":"b_bars"},"transform":[{"filter":"datum.m==='CXCR5' && datum.p==='neg'"}],"mark":{"type":"rule","color":"black","strokeWidth":3},"encoding":{"x":{"field":"s","type":"nominal"},"y":{"field":"v","type":"quantitative"},"y2":{"field":"hi"}}},
   {"data":{"name":"b_bars"},"transform":[{"filter":"datum.m==='CXCR5' && datum.p==='neg'"}],"mark":{"type":"tick","color":"black","thickness":3,"size":8},"encoding":{"x":{"field":"s","type":"nominal"},"y":{"field":"hi","type":"quantitative"}}},
   {"data":{"name":"b_brk"},"transform":[{"filter":"datum.m==='CXCR5' && datum.p==='neg'"}],"mark":{"type":"line","color":"black","strokeWidth":2.5},"encoding":{"x":{"field":"s","type":"nominal"},"y":{"field":"y","type":"quantitative"},"order":{"field":"o","type":"quantitative"}}},
   {"data":{"name":"b_star"},"transform":[{"filter":"datum.m==='CXCR5' && datum.p==='neg' && datum.s"}],"mark":{"type":"text","fontSize":30,"fontWeight":"bold","baseline":"middle","dy":8,"dx":-7},"encoding":{"x":{"field":"s","type":"nominal"},"y":{"field":"y","type":"quantitative"},"text":{"field":"t","type":"nominal"}}}
  ]},
 {"width":141,"height":182,
  "layer":[
   {"data":{"name":"b_bars"},"transform":[{"filter":"datum.m==='CXCR5' && datum.p==='pos'"}],"mark":{"type":"bar","stroke":"black","strokeWidth":3},"encoding":{"x":{"field":"s","type":"nominal","scale":{"domain":["PB","ST"],"paddingInner":0.14,"paddingOuter":0.07},"axis":{"title":"CD27⁺","labelFontSize":40,"labelAngle":0,"labelPadding":8,"ticks":false,"domain":false,"titleFontSize":40,"titlePadding":2}},"y":{"field":"v","type":"quantitative","scale":{"domain":[0,100],"nice":false},"axis":{"title":null,"values":[0,20,40,60,80,100],"tickCount":12,"labelOverlap":false,"labelFontSize":21,"tickSize":3,"labelPadding":0,"labelBaseline":"middle","labelOffset":9}},"fill":{"condition":{"test":"datum.s==='PB'","value":"#c6c6c6"},"value":"#8a8a8a"}}},
   {"data":{"name":"b_bars"},"transform":[{"filter":"datum.m==='CXCR5' && datum.p==='pos'"}],"mark":{"type":"rule","color":"black","strokeWidth":3},"encoding":{"x":{"field":"s","type":"nominal"},"y":{"field":"v","type":"quantitative"},"y2":{"field":"hi"}}},
   {"data":{"name":"b_bars"},"transform":[{"filter":"datum.m==='CXCR5' && datum.p==='pos'"}],"mark":{"type":"tick","color":"black","thickness":3,"size":8},"encoding":{"x":{"field":"s","type":"nominal"},"y":{"field":"hi","type":"quantitative"}}},
   {"data":{"name":"b_brk"},"transform":[{"filter":"datum.m==='CXCR5' && datum.p==='pos'"}],"mark":{"type":"line","color":"black","strokeWidth":2.5},"encoding":{"x":{"field":"s","type":"nominal"},"y":{"field":"y","type":"quantitative"},"order":{"field":"o","type":"quantitative"}}},
   {"data":{"name":"b_star"},"transform":[{"filter":"datum.m==='CXCR5' && datum.p==='pos' && !datum.s"}],"mark":{"type":"text","fontSize":30,"fontWeight":"bold","baseline":"middle","dy":8},"encoding":{"y":{"field":"y","type":"quantitative"},"text":{"field":"t","type":"nominal"}}}
  ]},

 {"width":215,"height":120,"view":{"stroke":null},
  "layer":[
   {"data":{"values":[{"g":"normal","c":"-","t":"(-)"},{"g":"normal","c":"+","t":"(+)"},{"g":"RA","c":"-","t":"(-)"},{"g":"RA","c":"+","t":"(+)"}]},
    "mark":{"type":"text","fontSize":40,"fontWeight":"bold","baseline":"middle","dy":-7},
    "encoding":{"x":{"field":"g","type":"nominal","scale":{"type":"band","domain":["normal","RA"],"paddingInner":0.13,"paddingOuter":0.09},"axis":null},"xOffset":{"field":"c","type":"nominal","scale":{"type":"band","domain":["-","+"],"paddingInner":0,"paddingOuter":0}},"y":{"datum":"sign","type":"nominal","scale":{"type":"point","domain":["sign","brace","cohort"]},"axis":null},"text":{"field":"t","type":"nominal"}}},
   {"data":{"values":[{"g":"normal","c":"-","t":"CD27"}]},
    "mark":{"type":"text","fontSize":40,"fontWeight":"bold","baseline":"middle","align":"right","dx":-36,"dy":-3},
    "encoding":{"x":{"field":"g","type":"nominal","axis":null},"xOffset":{"field":"c","type":"nominal"},"y":{"datum":"sign","type":"nominal"},"text":{"field":"t","type":"nominal"}}},
   {"data":{"values":[{"g":"normal"},{"g":"RA"}]},
    "mark":{"type":"rule","color":"black","strokeWidth":2},
    "encoding":{"x":{"field":"g","type":"nominal","bandPosition":0.1,"axis":null},"x2":{"field":"g","bandPosition":0.95},"y":{"datum":"brace","type":"nominal"}}},
   {"data":{"values":[{"g":"normal"},{"g":"RA"}]},
    "mark":{"type":"rule","color":"black","strokeWidth":2,"yOffset":-12,"y2Offset":1},
    "encoding":{"x":{"field":"g","type":"nominal","bandPosition":0.1,"axis":null},"y":{"datum":"brace","type":"nominal"},"y2":{"datum":"brace"}}},
   {"data":{"values":[{"g":"normal"},{"g":"RA"}]},
    "mark":{"type":"rule","color":"black","strokeWidth":2,"yOffset":-12,"y2Offset":1},
    "encoding":{"x":{"field":"g","type":"nominal","bandPosition":0.95,"axis":null},"y":{"datum":"brace","type":"nominal"},"y2":{"datum":"brace"}}},
   {"data":{"values":[{"g":"normal","t":"PB normal"}]},
    "mark":{"type":"text","fontSize":40,"fontWeight":"bold","baseline":"middle","align":"right","dx":58,"dy":2},
    "encoding":{"x":{"field":"g","type":"nominal","axis":null},"y":{"datum":"cohort","type":"nominal"},"text":{"field":"t","type":"nominal"}}},
   {"data":{"values":[{"g":"RA","t":"RA"}]},
    "mark":{"type":"text","fontSize":40,"fontWeight":"bold","baseline":"middle","dx":6,"dy":2},
    "encoding":{"x":{"field":"g","type":"nominal","axis":null},"y":{"datum":"cohort","type":"nominal"},"text":{"field":"t","type":"nominal"}}}
  ]},
 {"width":142,"height":120,"view":{"stroke":null},
  "layer":[
   {"data":{"values":[{"a":"RA"}]},
    "mark":{"type":"rule","color":"black","strokeWidth":2.5,"yOffset":18},
    "encoding":{"x":{"field":"a","type":"nominal","bandPosition":0.26,"scale":{"type":"band","domain":["RA"],"paddingInner":0,"paddingOuter":0},"axis":null},"x2":{"field":"a","bandPosition":2.3},"y":{"datum":"brace","type":"nominal","scale":{"type":"point","domain":["sign","brace","cohort"]},"axis":null}}},
   {"data":{"values":[{"a":"RA"}]},
    "mark":{"type":"rule","color":"black","strokeWidth":2.5,"yOffset":8,"y2Offset":19},
    "encoding":{"x":{"field":"a","type":"nominal","bandPosition":0.26,"axis":null},"y":{"datum":"brace","type":"nominal"},"y2":{"datum":"brace"}}},
   {"data":{"values":[{"a":"RA"}]},
    "mark":{"type":"rule","color":"black","strokeWidth":2.5,"yOffset":8,"y2Offset":19},
    "encoding":{"x":{"field":"a","type":"nominal","bandPosition":2.3,"axis":null},"y":{"datum":"brace","type":"nominal"},"y2":{"datum":"brace"}}},
   {"data":{"values":[{"a":"RA","t":"RA"}]},
    "mark":{"type":"text","fontSize":40,"fontWeight":"bold","baseline":"middle","dy":8},
    "encoding":{"x":{"field":"a","type":"nominal","bandPosition":1.28,"axis":null},"y":{"datum":"cohort","type":"nominal"},"text":{"field":"t","type":"nominal"}}}
  ]},
 {"width":141,"height":120,"view":{"stroke":null},"data":{"values":[]},"mark":{"type":"text"},"encoding":{}}
]
}
